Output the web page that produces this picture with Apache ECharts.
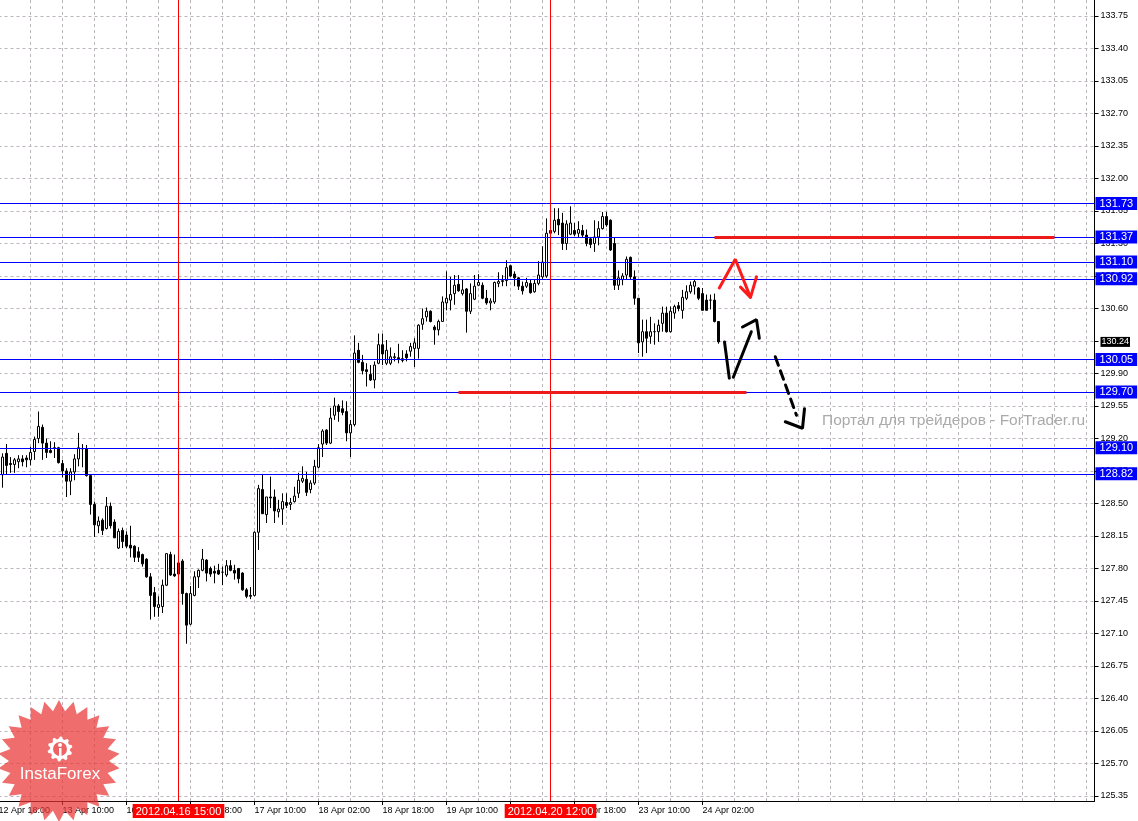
<!DOCTYPE html>
<html>
<head>
<meta charset="utf-8">
<script src="https://cdn.jsdelivr.net/npm/echarts@6/dist/echarts.min.js"></script>
<style>
  html, body { margin: 0; padding: 0; background: #fff; }
  #chart { width: 1138px; height: 821px; }
</style>
</head>
<body>
<div id="chart"></div>
<script>
  // trading sessions (day, first hour, last hour) used to build the H1 time axis
  const sessions = [
    ['12 Apr', 18, 23], ['13 Apr', 0, 23], ['16 Apr', 0, 23], ['17 Apr', 0, 23],
    ['18 Apr', 0, 23], ['19 Apr', 0, 23], ['20 Apr', 0, 23], ['23 Apr', 0, 23],
    ['24 Apr', 0, 23], ['25 Apr', 0, 23], ['26 Apr', 0, 23], ['27 Apr', 0, 23],
    ['30 Apr', 0, 23]
  ];
  const slotCount = 275;
  const firstBar = 1; // 12 Apr 19:00

  const opens = [
    128.81, 129.04, 128.93, 128.92, 128.95, 128.98, 128.99, 128.97, 129.06, 129.20,
    129.32, 129.15, 129.07, 129.10, 129.10, 128.93, 128.85, 128.74, 128.84, 128.98,
    129.09, 129.09, 128.80, 128.49, 128.26, 128.32, 128.23, 128.47, 128.30, 128.02,
    128.21, 128.16, 128.05, 128.04, 127.98, 127.95, 127.90, 127.71, 127.54, 127.38,
    127.39, 127.62, 127.95, 127.74, 127.74, 127.88, 127.53, 127.20, 127.51, 127.71,
    127.78, 127.89, 127.80, 127.77, 127.78, 127.76, 127.73, 127.83, 127.78, 127.80,
    127.75, 127.57, 127.51, 127.51, 128.19, 128.65, 128.38, 128.57, 128.57, 128.41,
    128.44, 128.51, 128.49, 128.52, 128.61, 128.74, 128.76, 128.65, 128.72, 128.89,
    129.14, 129.29, 129.15, 129.45, 129.55, 129.52, 129.49, 129.26, 129.35, 130.15,
    130.02, 129.94, 129.89, 129.83, 130.01, 130.21, 130.01, 130.01, 130.07, 130.07,
    130.04, 130.11, 130.14, 130.17, 130.17, 130.43, 130.51, 130.57, 130.40, 130.37,
    130.46, 130.66, 130.69, 130.76, 130.86, 130.76, 130.81, 130.57, 130.70, 130.85,
    130.85, 130.71, 130.66, 130.67, 130.87, 130.89, 130.90, 131.06, 130.97, 130.93,
    130.84, 130.84, 130.87, 130.78, 130.87, 130.94, 130.95, 131.41, 131.43, 131.56,
    131.52, 131.30, 131.40, 131.44, 131.41, 131.44, 131.39, 131.35, 131.30, 131.37,
    131.46, 131.59, 131.55, 131.30, 130.85, 130.91, 130.96, 131.15, 130.94, 130.71,
    130.24, 130.35, 130.30, 130.35, 130.35, 130.44, 130.55, 130.35, 130.55, 130.63,
    130.58, 130.71, 130.78, 130.84, 130.82, 130.76, 130.69, 130.69, 130.69, 130.46
  ];
  const closes = [
    129.00, 128.91, 128.92, 128.97, 128.98, 128.95, 128.97, 129.05, 129.19, 129.33,
    129.15, 129.05, 129.05, 129.10, 128.94, 128.85, 128.74, 128.84, 128.98, 129.10,
    129.09, 128.80, 128.49, 128.27, 128.31, 128.21, 128.47, 128.26, 128.13, 128.20,
    128.09, 128.04, 128.02, 127.92, 127.92, 127.85, 127.71, 127.51, 127.39, 127.41,
    127.62, 127.96, 127.73, 127.72, 127.86, 127.53, 127.19, 127.53, 127.71, 127.78,
    127.90, 127.75, 127.74, 127.75, 127.74, 127.76, 127.83, 127.78, 127.75, 127.69,
    127.57, 127.50, 127.50, 128.19, 128.66, 128.39, 128.57, 128.56, 128.42, 128.44,
    128.52, 128.48, 128.51, 128.58, 128.75, 128.77, 128.62, 128.72, 128.90, 129.10,
    129.28, 129.15, 129.42, 129.55, 129.49, 129.48, 129.26, 129.35, 130.12, 130.02,
    129.93, 129.92, 129.83, 129.99, 130.21, 130.11, 130.15, 130.08, 130.08, 130.05,
    130.06, 130.07, 130.19, 130.23, 130.42, 130.49, 130.57, 130.46, 130.37, 130.46,
    130.67, 130.71, 130.75, 130.85, 130.79, 130.80, 130.57, 130.76, 130.84, 130.88,
    130.71, 130.66, 130.68, 130.88, 130.89, 130.90, 131.04, 130.95, 130.93, 130.84,
    130.79, 130.88, 130.77, 130.87, 130.96, 131.10, 131.41, 131.44, 131.55, 131.50,
    131.30, 131.51, 131.52, 131.40, 131.45, 131.39, 131.30, 131.29, 131.37, 131.46,
    131.59, 131.50, 131.23, 130.85, 130.93, 130.95, 131.13, 130.94, 130.71, 130.23,
    130.35, 130.28, 130.35, 130.35, 130.42, 130.55, 130.35, 130.57, 130.62, 130.60,
    130.72, 130.78, 130.85, 130.89, 130.71, 130.58, 130.58, 130.69, 130.46, 130.24
  ];
  const lows = [
    128.67, 128.81, 128.83, 128.83, 128.88, 128.90, 128.89, 128.91, 128.97, 129.15,
    128.97, 128.99, 129.04, 128.99, 128.93, 128.78, 128.57, 128.59, 128.75, 128.90,
    128.89, 128.79, 128.38, 128.14, 128.18, 128.16, 128.22, 128.23, 128.13, 128.01,
    128.02, 128.02, 127.92, 127.87, 127.87, 127.82, 127.70, 127.25, 127.28, 127.28,
    127.32, 127.61, 127.72, 127.71, 127.73, 127.41, 126.99, 127.19, 127.50, 127.59,
    127.77, 127.66, 127.71, 127.64, 127.73, 127.62, 127.71, 127.77, 127.68, 127.64,
    127.56, 127.48, 127.47, 127.50, 128.00, 128.39, 128.29, 128.45, 128.29, 128.35,
    128.27, 128.45, 128.43, 128.51, 128.56, 128.72, 128.58, 128.61, 128.70, 128.88,
    129.00, 129.13, 129.14, 129.40, 129.38, 129.45, 129.17, 129.00, 129.33, 130.01,
    129.89, 129.76, 129.82, 129.74, 130.00, 129.99, 129.99, 129.99, 130.03, 130.01,
    130.02, 130.03, 130.08, 129.97, 130.06, 130.37, 130.46, 130.45, 130.21, 130.31,
    130.46, 130.58, 130.58, 130.64, 130.78, 130.74, 130.34, 130.54, 130.69, 130.84,
    130.70, 130.64, 130.58, 130.65, 130.83, 130.84, 130.84, 130.94, 130.84, 130.80,
    130.75, 130.82, 130.76, 130.77, 130.85, 130.92, 130.93, 131.39, 131.41, 131.39,
    131.23, 131.23, 131.39, 131.38, 131.36, 131.36, 131.27, 131.25, 131.21, 131.28,
    131.45, 131.48, 131.22, 130.80, 130.80, 130.85, 130.91, 130.91, 130.64, 130.12,
    130.08, 130.12, 130.22, 130.21, 130.24, 130.35, 130.34, 130.34, 130.49, 130.57,
    130.49, 130.69, 130.76, 130.75, 130.69, 130.58, 130.58, 130.59, 130.45, 130.22
  ];
  const highs = [
    129.04, 129.14, 129.00, 128.99, 129.02, 129.02, 129.02, 129.11, 129.22, 129.49,
    129.35, 129.20, 129.17, 129.16, 129.11, 128.97, 128.88, 128.88, 129.03, 129.26,
    129.14, 129.13, 128.81, 128.52, 128.36, 128.34, 128.57, 128.51, 128.33, 128.23,
    128.24, 128.20, 128.26, 128.05, 128.03, 127.96, 127.91, 127.75, 127.60, 127.50,
    127.68, 127.96, 127.98, 127.95, 127.87, 127.90, 127.54, 127.61, 127.77, 127.79,
    128.01, 127.90, 127.82, 127.83, 127.85, 127.82, 127.89, 127.89, 127.84, 127.80,
    127.76, 127.59, 127.60, 128.20, 128.70, 128.81, 128.57, 128.79, 128.65, 128.54,
    128.61, 128.61, 128.56, 128.68, 128.83, 128.90, 128.84, 128.75, 128.97, 129.14,
    129.30, 129.30, 129.53, 129.64, 129.57, 129.61, 129.60, 129.40, 130.31, 130.23,
    130.10, 130.01, 129.99, 130.03, 130.33, 130.33, 130.26, 130.18, 130.12, 130.22,
    130.15, 130.15, 130.23, 130.28, 130.43, 130.60, 130.61, 130.58, 130.42, 130.48,
    130.73, 131.00, 130.94, 130.96, 130.96, 130.91, 130.82, 130.87, 130.96, 130.97,
    130.88, 130.80, 130.71, 130.89, 130.99, 130.96, 131.12, 131.07, 131.00, 130.94,
    130.89, 130.93, 130.91, 130.91, 131.11, 131.27, 131.57, 131.68, 131.68, 131.68,
    131.63, 131.55, 131.70, 131.52, 131.54, 131.50, 131.45, 131.37, 131.55, 131.54,
    131.64, 131.64, 131.56, 131.36, 131.01, 130.98, 131.16, 131.16, 131.01, 130.71,
    130.48, 130.48, 130.51, 130.44, 130.48, 130.62, 130.62, 130.62, 130.64, 130.67,
    130.80, 130.85, 130.89, 130.91, 130.83, 130.82, 130.75, 130.75, 130.76, 130.46
  ];

  const priceTicks = [
    125.35, 125.70, 126.05, 126.40, 126.75, 127.10, 127.45, 127.80, 128.15, 128.50,
    128.85, 129.20, 129.55, 129.90, 130.25, 130.60, 130.95, 131.30, 131.65, 132.00,
    132.35, 132.70, 133.05, 133.40, 133.75
  ];
  const levels = [131.73, 131.37, 131.10, 130.92, 130.05, 129.70, 129.10, 128.82];
  const lastPrice = 130.24;
  const markedTimes = [['16 Apr 15:00', '2012.04.16 15:00'], ['20 Apr 12:00', '2012.04.20 12:00']];
  // red target segments: [price, from slot, to slot]
  const targets = [[131.37, 179, 264], [129.70, 115, 187]];
  // hand drawn forecast strokes as [slot, price]
  const redStroke = [[180.2, 130.82], [184.2, 131.13], [188, 130.72]];
  const redHead = [[185.5, 130.83], [188, 130.72], [189.5, 130.94]];
  const blackDown = [[181.5, 130.24], [182.7, 129.85]];
  const blackUp = [[183.7, 129.86], [188.2, 130.35]];
  const blackHead = [[186, 130.40], [189.5, 130.48], [190.2, 130.28]];
  const dashStroke = [[194.2, 130.08], [199.5, 129.45]];
  const dashHead = [[196.7, 129.38], [201, 129.31], [201.5, 129.52]];

  const categories = [];
  sessions.forEach(([day, from, to]) => {
    for (let h = from; h <= to; h++) categories.push(day + ' ' + String(h).padStart(2, '0') + ':00');
  });
  categories.length = slotCount;
  const lastSlot = firstBar + opens.length - 1;

  const candles = opens.map((o, i) => [firstBar + i, o, closes[i], lows[i], highs[i]]);

  const font = "'Liberation Sans', Arial, sans-serif";
  const gridColor = '#bdb5bd';
  const labelEvery = (i) => i % 16 === 0 && i <= lastSlot;

  const stroke = (name, data, color, type) => ({
    name, type: 'line', xAxisIndex: 1, data, showSymbol: false, silent: true,
    lineStyle: { color, width: 3, type: type || 'solid', cap: 'round' }, z: 5
  });

  const star = [];
  for (let j = 0; j < 52; j++) {
    const r = j % 2 ? 50 : 61;
    const a = Math.PI * j / 26;
    star.push([59 + r * Math.sin(a), 761 - r * Math.cos(a)]);
  }
  const gear = [];
  for (let j = 0; j < 40; j++) {
    const r = (j % 4 < 2) ? 12.5 : 10;
    const a = Math.PI * 2 * j / 40;
    gear.push([60 + r * Math.sin(a), 749 - r * Math.cos(a)]);
  }

  const myChart = echarts.init(document.getElementById('chart'));
  const option = {
    animation: false,
    backgroundColor: '#ffffff',
    grid: { left: -1.5, right: 43.5, top: 0, bottom: 20, outerBoundsMode: 'none', containLabel: false },
    xAxis: [
      {
        type: 'category',
        data: categories,
        boundaryGap: false,
        axisLine: { onZero: false, lineStyle: { color: '#000', width: 1 } },
        axisTick: { interval: labelEvery, length: 4, lineStyle: { color: '#000' } },
        axisLabel: {
          interval: labelEvery, align: 'left', margin: 5, fontSize: 9,
          color: '#000', fontFamily: font
        },
        splitLine: { show: true, interval: (i) => i % 8 === 0, lineStyle: { color: gridColor, type: [3, 3] } }
      },
      { type: 'value', min: 0, max: slotCount - 1, show: false }
    ],
    yAxis: {
      type: 'value',
      position: 'right',
      min: 125.296,
      max: 133.922,
      axisLine: { show: true, onZero: false, lineStyle: { color: '#000' } },
      axisTick: { show: true, length: 4, customValues: priceTicks, lineStyle: { color: '#000' } },
      axisLabel: {
        customValues: priceTicks, formatter: (v) => v.toFixed(2), fontSize: 9,
        color: '#000', margin: 6, fontFamily: font
      },
      splitLine: { show: true, lineStyle: { color: gridColor, type: [3, 3] } }
    },
    series: [
      {
        type: 'candlestick',
        data: candles,
        encode: { x: 0, y: [1, 2, 3, 4] },
        barWidth: 2,
        itemStyle: {
          color: '#ffffff', color0: '#000000',
          borderColor: '#000000', borderColor0: '#000000', borderWidth: 1
        },
        markLine: {
          symbol: 'none',
          silent: true,
          animation: false,
          data: [
            ...levels.map((v) => ({
              yAxis: v,
              lineStyle: { color: '#0000ff', width: 1, type: 'solid' },
              label: {
                show: true, position: 'end', distance: 1, formatter: v.toFixed(2),
                backgroundColor: '#0000ff', color: '#fff', fontSize: 11, fontFamily: font,
                padding: [1, 4, 0, 4], lineHeight: 12
              }
            })),
            {
              yAxis: lastPrice,
              lineStyle: { color: 'rgba(0,0,0,0)', width: 0 },
              label: {
                show: true, position: 'end', distance: 6, formatter: lastPrice.toFixed(2),
                backgroundColor: '#000', color: '#fff', fontSize: 9, fontFamily: font,
                padding: [1, 1, 0, 1], lineHeight: 9
              }
            },
            ...markedTimes.map(([cat, text]) => ({
              xAxis: cat,
              lineStyle: { color: '#ff0000', width: 1, type: 'solid' },
              label: {
                show: true, position: 'start', distance: 3, formatter: text,
                backgroundColor: '#ff0000', color: '#fff', fontSize: 11, fontFamily: font,
                padding: [1, 3, 0, 3], lineHeight: 13
              }
            })),
            ...targets.map(([p, a, b]) => [
              { coord: [categories[a], p], lineStyle: { color: '#ee1a1a', width: 3, type: 'solid' }, label: { show: false } },
              { coord: [categories[b], p] }
            ])
          ]
        }
      },
      stroke('redStroke', redStroke, '#ff1a1a'),
      stroke('redHead', redHead, '#ff1a1a'),
      stroke('blackDown', blackDown, '#000'),
      stroke('blackUp', blackUp, '#000'),
      stroke('blackHead', blackHead, '#000'),
      stroke('dashStroke', dashStroke, '#000', [9, 6]),
      stroke('dashHead', dashHead, '#000')
    ],
    graphic: [
      {
        type: 'text', left: 822, top: 413, silent: true,
        style: { text: 'Портал для трейдеров - ForTrader.ru', fill: '#aaaaaa', fontSize: 15.5, fontFamily: font }
      },
      { type: 'polygon', shape: { points: star }, style: { fill: 'rgba(234, 52, 52, 0.72)' }, silent: true, z: 100 },
      { type: 'polygon', shape: { points: gear }, style: { fill: '#fff' }, silent: true, z: 101 },
      { type: 'circle', shape: { cx: 60, cy: 749, r: 7 }, style: { fill: '#ee6464' }, silent: true, z: 102 },
      { type: 'circle', shape: { cx: 60, cy: 745, r: 2 }, style: { fill: '#fff' }, silent: true, z: 103 },
      { type: 'rect', shape: { x: 59, y: 748, width: 2.5, height: 9 }, style: { fill: '#fff' }, silent: true, z: 103 },
      {
        type: 'text', x: 60, y: 774, silent: true, z: 104,
        style: { text: 'InstaForex', fill: '#fff', fontSize: 17, fontFamily: font, align: 'center', verticalAlign: 'middle' }
      }
    ]
  };
  myChart.setOption(option);

  window.addEventListener('resize', () => myChart.resize());
</script>
</body>
</html>
